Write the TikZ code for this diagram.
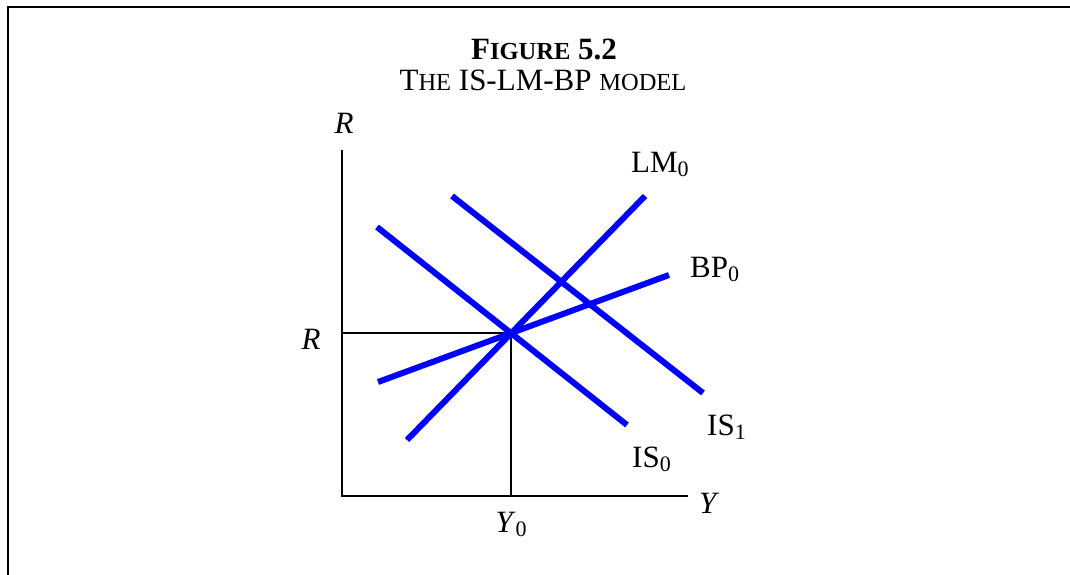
\documentclass[tikz,border=0pt]{standalone}
\usepackage{fontspec}
\setmainfont{Liberation Serif}
\usetikzlibrary{positioning}
\newcommand{\lbsub}[1]{\raisebox{-0.3ex}{\fontsize{22}{22}\selectfont #1}}
\newcommand{\smallc}[1]{{\fontsize{24.5}{24.5}\selectfont #1}}

\begin{document}
\begin{tikzpicture}[x=1pt,y=-1pt,
  curve/.style={blue,line width=6pt},
  axis/.style={black,line width=2.5pt},
  guide/.style={black,line width=1.4pt},
  lbl/.style={font=\fontsize{31}{31}\selectfont,inner sep=0pt}]
\useasboundingbox (0,0) rectangle (1070,575);
% frame
\draw[line width=2.5pt] (8,575) -- (8,7) -- (1070,7);
% title
\node[lbl,anchor=base] (fig) at (544,60) {\bfseries F\smallc{IGURE} 5.2};
\node[lbl,anchor=base] (subtitle) at (543,91) {T\smallc{HE} IS-LM-BP \smallc{MODEL}};
% axes
\coordinate (O) at (342,496);
\coordinate (rtop) at (342,150);
\coordinate (yend) at (688,496);
\draw[axis] (rtop) -- (O) -- (yend);
% equilibrium
\coordinate (E) at (511,333);
\coordinate (Er) at (342,333);
\coordinate (Ey) at (511,496);
\draw[guide] (Er) -- (E) -- (Ey);
% curves
\coordinate (is0a) at (377,227);
\coordinate (is0b) at (627,425);
\coordinate (is1a) at (452,196);
\coordinate (is1b) at (703,393);
\coordinate (lma) at (407,440);
\coordinate (lmb) at (645,196);
\coordinate (bpa) at (378,382);
\coordinate (bpb) at (669,275);
\draw[curve] (is0a) -- (is0b);
\draw[curve] (is1a) -- (is1b);
\draw[curve] (lma) -- (lmb);
\draw[curve] (bpa) -- (bpb);
% labels
\node[lbl,anchor=base] (rlab) at (344,133) {\textit{R}};
\node[lbl,anchor=base] (rval) at (311,349) {\textit{R}};
\node[lbl,anchor=base west] (ylab) at (699,513) {\textit{Y}};
\node[lbl,anchor=base] (y0) at (511,532) {\textit{Y}\lbsub{0}};
\node[lbl,anchor=base west] (lm0) at (631,172) {LM\lbsub{0}};
\node[lbl,anchor=base west] (bp0) at (690,277) {BP\lbsub{0}};
\node[lbl,anchor=base west] (is1) at (707,435) {IS\lbsub{1}};
\node[lbl,anchor=base west] (is0) at (632,467) {IS\lbsub{0}};
\end{tikzpicture}
\end{document}
